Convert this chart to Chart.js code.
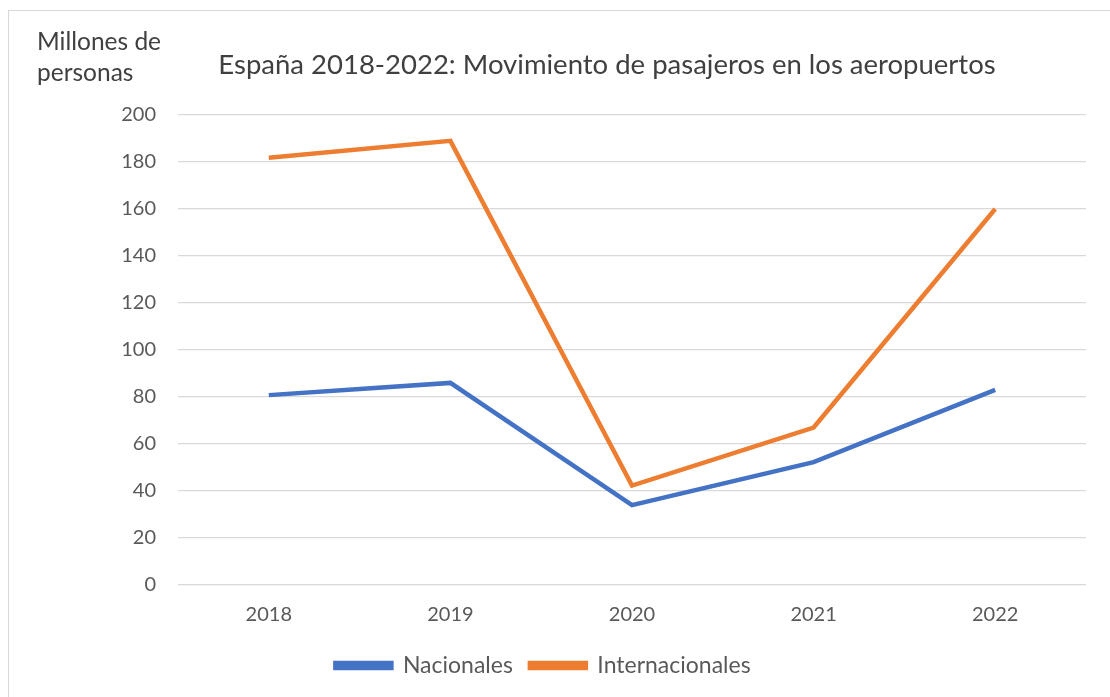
<!DOCTYPE html>
<html>
<head>
<meta charset="utf-8">
<script src="https://cdn.jsdelivr.net/npm/chart.js@4.4.0/dist/chart.umd.min.js"></script>
<style>
  html, body { margin: 0; padding: 0; background: #ffffff; }
  #frame {
    position: absolute; left: 8px; top: 10px; width: 1110px; height: 700px;
    border: 1px solid #d9d9d9; box-sizing: border-box;
  }
  #wrap { position: absolute; left: 0; top: 0; width: 1110px; height: 697px; }
</style>
</head>
<body>
<div id="frame"></div>
<div id="wrap"><canvas id="grafico"></canvas></div>
<script>
// =========================
// Datos
// =========================
const anios = ["2018", "2019", "2020", "2021", "2022"];
const nacionales = [80.8, 86, 34, 52.3, 83];
const internacionales = [181.8, 189, 42.3, 67, 160];
const ticksY = [0, 20, 40, 60, 80, 100, 120, 140, 160, 180, 200];

const titulo = "España 2018-2022: Movimiento de pasajeros en los aeropuertos";
const tituloEjeY = ["Millones de", "personas"];

const FONT = "Lato, 'Open Sans', sans-serif";

// Textos fuera del área: título y título del eje Y
const textosPlugin = {
  id: "textos",
  afterDraw(chart) {
    const ctx = chart.ctx;
    ctx.save();
    ctx.fillStyle = "#404040";
    ctx.textBaseline = "alphabetic";
    ctx.font = "27.5px " + FONT;
    ctx.textAlign = "center";
    ctx.fillText(titulo, 607, 74);
    ctx.font = "24.5px " + FONT;
    ctx.textAlign = "left";
    ctx.fillText(tituloEjeY[0], 37, 50);
    ctx.fillText(tituloEjeY[1], 37, 81);
    ctx.restore();
  }
};

new Chart(document.getElementById("grafico"), {
  type: "line",
  data: {
    labels: anios,
    datasets: [
      {
        label: "Nacionales",
        data: nacionales,
        borderColor: "#4472C4",
        backgroundColor: "#4472C4",
        borderWidth: 4.5,
        pointRadius: 0,
        tension: 0
      },
      {
        label: "Internacionales",
        data: internacionales,
        borderColor: "#ED7D31",
        backgroundColor: "#ED7D31",
        borderWidth: 4.5,
        pointRadius: 0,
        tension: 0
      }
    ]
  },
  options: {
    responsive: true,
    maintainAspectRatio: false,
    animation: false,
    layout: { padding: { top: 115, right: 24, bottom: 10, left: 0 } },
    scales: {
      x: {
        offset: true,
        grid: { display: false },
        border: { display: false },
        ticks: { color: "#595959", font: { family: FONT, size: 20 }, padding: 10 }
      },
      y: {
        min: 0,
        max: 200,
        afterBuildTicks(scale) { scale.ticks = ticksY.map(v => ({ value: v })); },
        afterFit(scale) { scale.width = 178; },
        grid: { color: "#d9d9d9", lineWidth: 1.3, drawTicks: false },
        border: { display: false },
        ticks: { color: "#595959", font: { family: FONT, size: 20 }, padding: 22 }
      }
    },
    plugins: {
      title: { display: false },
      tooltip: { enabled: false },
      legend: {
        position: "bottom",
        labels: {
          color: "#595959",
          font: { family: FONT, size: 23 },
          boxWidth: 56,
          boxHeight: 5,
          padding: 17
        }
      }
    }
  },
  plugins: [textosPlugin]
});
</script>
</body>
</html>
